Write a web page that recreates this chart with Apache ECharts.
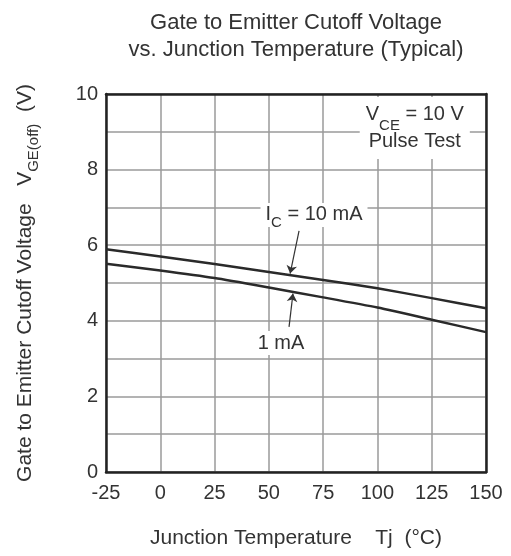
<!DOCTYPE html>
<html>
<head>
<meta charset="utf-8">
<script src="https://cdn.jsdelivr.net/npm/echarts@6/dist/echarts.min.js"></script>
<style>
html, body { margin: 0; padding: 0; background: #fff; }
#main { width: 511px; height: 556px; }
</style>
</head>
<body>
<div id="main"></div>
<script>
// temperatures (°C) and read-off gate-emitter cutoff voltages (V)
var temps = [-25, 0, 25, 50, 75, 100, 125, 150];
var vge10mA = [5.89, 5.70, 5.50, 5.29, 5.08, 4.86, 4.60, 4.33];
var vge1mA = [5.51, 5.33, 5.13, 4.88, 4.62, 4.35, 4.03, 3.70];
var yTickLabels = [0, 2, 4, 6, 8, 10];

var font = 'Liberation Sans, Arial, sans-serif';
var txt = '#333';
var subStyle = { fontSize: 15, color: txt, verticalAlign: 'bottom', padding: [0, 0, -5, 0] };

function pairs(xs, ys) {
    var out = [];
    for (var i = 0; i < xs.length; i++) out.push([xs[i], ys[i]]);
    return out;
}

var myChart = echarts.init(document.getElementById('main'));

myChart.setOption({
    animation: false,
    textStyle: { fontFamily: font },
    graphic: [{
        type: 'text',
        x: 296, y: 9,
        style: {
            text: 'Gate to Emitter Cutoff Voltage\nvs. Junction Temperature (Typical)',
            font: '22px ' + font,
            fill: txt,
            textAlign: 'center',
            lineHeight: 27
        }
    }],
    grid: { left: 106, right: 25, top: 94, bottom: 84 },
    xAxis: [{
        type: 'value',
        min: -25, max: 150, interval: 25,
        name: 'Junction Temperature    Tj  (°C)',
        nameLocation: 'middle',
        nameGap: 56,
        nameTextStyle: { fontSize: 21, color: txt },
        axisLine: { show: true, onZero: false, lineStyle: { color: '#222', width: 2.5 } },
        axisTick: { show: false },
        axisLabel: { fontSize: 20, color: txt, margin: 11 },
        splitLine: { show: true, lineStyle: { color: '#9a9a9a', width: 1.5 } }
    }, {
        type: 'value', position: 'top',
        min: -25, max: 150, interval: 25,
        axisLine: { show: true, onZero: false, lineStyle: { color: '#222', width: 2.5 } },
        axisTick: { show: false }, axisLabel: { show: false }, splitLine: { show: false }
    }],
    yAxis: [{
        type: 'value',
        min: 0, max: 10, interval: 1,
        name: 'Gate to Emitter Cutoff Voltage   V{s|GE(off)}  (V)',
        nameLocation: 'middle',
        nameRotate: 90,
        nameGap: 70,
        nameTextStyle: { fontSize: 21, color: txt, rich: { s: subStyle } },
        axisLine: { show: true, onZero: false, lineStyle: { color: '#222', width: 2.5 } },
        axisTick: { show: false },
        axisLabel: {
            fontSize: 20, color: txt, margin: 8,
            formatter: function (v) { return yTickLabels.indexOf(v) >= 0 ? String(v) : ''; }
        },
        splitLine: { show: true, lineStyle: { color: '#9a9a9a', width: 1.5 } }
    }, {
        type: 'value', position: 'right',
        min: 0, max: 10, interval: 1,
        axisLine: { show: true, onZero: false, lineStyle: { color: '#222', width: 2.5 } },
        axisTick: { show: false }, axisLabel: { show: false }, splitLine: { show: false }
    }],
    series: [{
        name: 'IC = 10 mA',
        type: 'line',
        smooth: 0.2,
        symbol: 'none',
        lineStyle: { color: '#2a2a2a', width: 2.5 },
        data: pairs(temps, vge10mA),
        markLine: {
            silent: true,
            symbol: ['none', 'arrow'],
            symbolSize: 8,
            label: { show: false },
            lineStyle: { color: '#333', width: 1.2, type: 'solid' },
            data: [[{ coord: [63.9, 6.38] }, { coord: [59.8, 5.25] }]]
        },
        markPoint: {
            silent: true,
            symbol: 'rect',
            symbolSize: 1,
            itemStyle: { color: 'rgba(0,0,0,0)' },
            label: { show: true, position: 'inside', fontSize: 20, color: txt, backgroundColor: '#fff', padding: [2, 5] },
            data: [{
                coord: [70.8, 6.8],
                label: { formatter: 'I{s|C} = 10 mA', rich: { s: subStyle } }
            }, {
                coord: [117.2, 9.1],
                label: {
                    formatter: 'V{s|CE} = 10 V\nPulse Test',
                    lineHeight: 27,
                    padding: [4, 6],
                    rich: { s: subStyle }
                }
            }]
        }
    }, {
        name: '1 mA',
        type: 'line',
        smooth: 0.2,
        symbol: 'none',
        lineStyle: { color: '#2a2a2a', width: 2.5 },
        data: pairs(temps, vge1mA),
        markLine: {
            silent: true,
            symbol: ['none', 'arrow'],
            symbolSize: 8,
            label: { show: false },
            lineStyle: { color: '#333', width: 1.2, type: 'solid' },
            data: [[{ coord: [59.3, 3.84] }, { coord: [61.1, 4.72] }]]
        },
        markPoint: {
            silent: true,
            symbol: 'rect',
            symbolSize: 1,
            itemStyle: { color: 'rgba(0,0,0,0)' },
            label: { show: true, position: 'inside', fontSize: 20, color: txt, backgroundColor: '#fff', padding: [2, 5] },
            data: [{ coord: [55.6, 3.41], label: { formatter: '1 mA' } }]
        }
    }]
});
</script>
</body>
</html>
